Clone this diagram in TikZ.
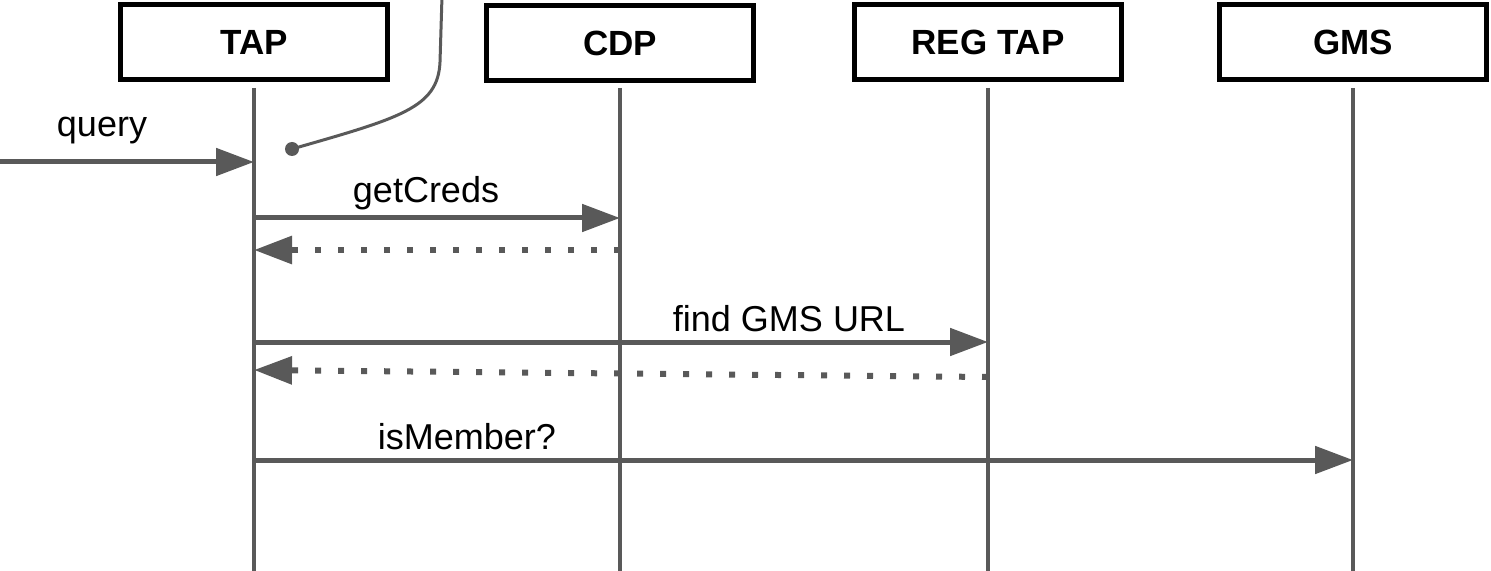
\documentclass[tikz,border=0pt]{standalone}
\usepackage{fontspec}
\setmainfont{Liberation Sans}
\usetikzlibrary{arrows.meta}
\definecolor{linegray}{HTML}{595959}
\tikzset{
    actor/.style={draw=black,line width=2.5pt,minimum width=133.5pt,minimum height=37.5pt,
        font=\fontsize{17.5}{20}\selectfont\bfseries,inner sep=0pt},
    lifeline/.style={draw=linegray,line width=2.25pt},
    msg/.style={draw=linegray,line width=2.5pt,-{Triangle[length=19pt,width=13.5pt]}},
    reply/.style={draw=linegray,line width=3pt,dash pattern=on 3pt off 8.5pt,
        -{Triangle[length=19pt,width=13.5pt]}},
    msglabel/.style={font=\fontsize{18}{21}\selectfont,inner sep=0pt}
}
\begin{document}
\begin{tikzpicture}[x=0.5pt,y=-0.5pt]
        \useasboundingbox (0,0) rectangle (1491,571);
        %% Participants
        \node[actor] (tap) at (254,42) {TAP};
        \node[actor] (cdp) at (620,43) {CDP};
        \node[actor] (reg) at (988,42) {REG TAP};
        \node[actor] (gms) at (1353,42) {GMS};
        %% Lifelines
        \foreach \p in {tap,cdp,reg,gms}
            \draw[lifeline] (\p.south |- 0,88) -- (\p.south |- 0,575);
        %% Incoming query
        \coordinate (src) at (0,162);
        \draw[msg] (src) -- (tap.south |- src);
        \node[msglabel] (qlabel) at (102,131) {query};
        %% Note pointer
        \coordinate (notetop) at (442,-4);
        \coordinate (notedot) at (292,149);
        \draw[linegray,line width=1.5pt] (notetop) -- (440,62)
            .. controls (438,108) and (400,118) .. (notedot);
        \fill[linegray] (notedot) circle (7);
        %% getCreds
        \draw[msg] (tap.south |- 0,218) -- (cdp.south |- 0,218);
        \node[msglabel] (gclabel) at (426,193) {getCreds};
        \draw[reply] (cdp.south |- 0,250) -- (tap.south |- 0,250);
        %% find GMS URL
        \draw[msg] (tap.south |- 0,342) -- (reg.south |- 0,342);
        \node[msglabel] (fglabel) at (789,319) {find GMS URL};
        \draw[reply] (reg.south |- 0,377) -- (tap.south |- 0,370);
        %% isMember?
        \draw[msg] (tap.south |- 0,460) -- (gms.south |- 0,460);
        \node[msglabel] (imlabel) at (467,437) {isMember?};
\end{tikzpicture}
\end{document}
